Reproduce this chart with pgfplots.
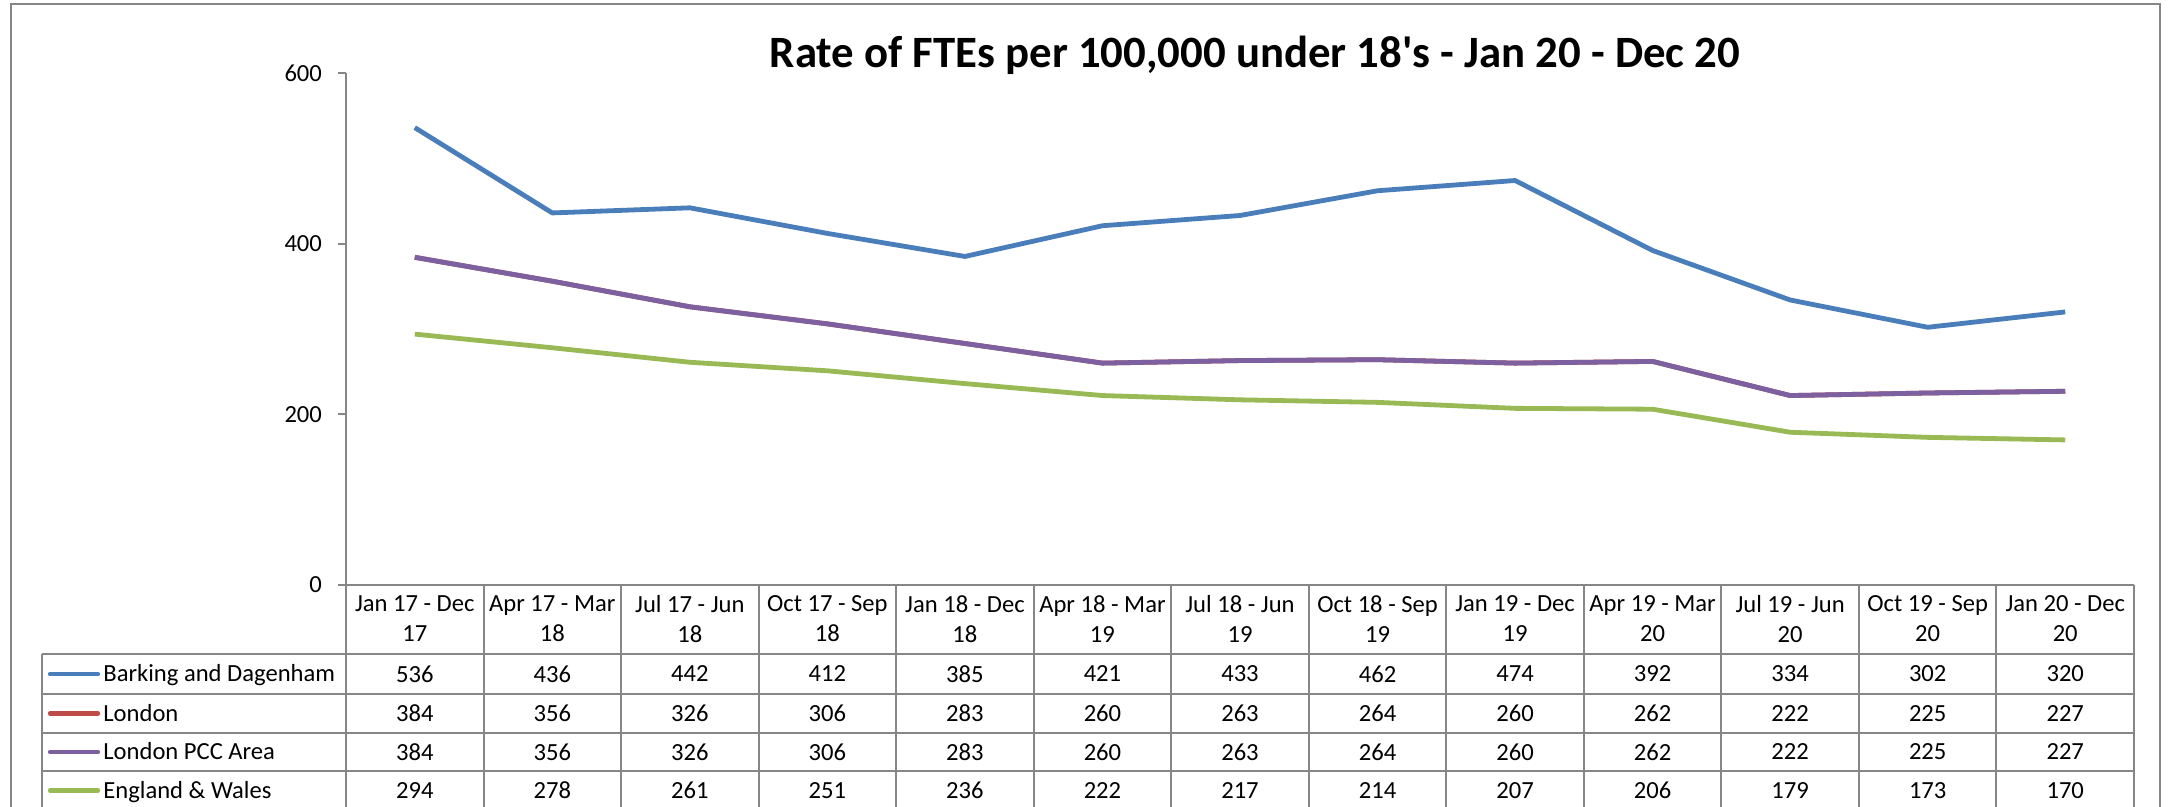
\documentclass[border=0pt]{standalone}
\usepackage{pgfplots}
\pgfplotsset{compat=1.18}
\usepackage{pgfplotstable}
\usepackage{fontspec}
\setmainfont{Carlito}[Ligatures=TeXOff]
\definecolor{cB}{HTML}{4A7EBB}
\definecolor{cR}{HTML}{BE4B48}
\definecolor{cP}{HTML}{7D60A0}
\definecolor{cG}{HTML}{98B954}
\definecolor{gridg}{HTML}{868686}

\pgfplotstableread{
x bd lon pcc ew
0 536 384 384 294
1 436 356 356 278
2 442 326 326 261
3 412 306 306 251
4 385 283 283 236
5 421 260 260 222
6 433 263 263 217
7 462 264 264 214
8 474 260 260 207
9 392 262 262 206
10 334 222 222 179
11 302 225 225 173
12 320 227 227 170
}\data

% pixel (reference) -> canvas, origin at axis lower-left = px (346,585)
\newcommand{\px}[2]{({((#1)-346)*0.5pt},{(585-(#2))*0.5pt})}
\newcommand{\fs}{\fontsize{12.3}{15}\selectfont}

\begin{document}
\begin{tikzpicture}
\useasboundingbox \px{0}{0} rectangle \px{2170}{807};
% outer frame
\draw[gridg, line width=1pt] \px{11}{807} -- \px{11}{4} -- \px{2160}{4} -- \px{2160}{807};
% title
\node[font=\fontsize{22.4}{26}\selectfont\bfseries] at \px{1255}{55} {Rate of FTEs per 100,000 under 18's - Jan 20 - Dec 20};

% table grid
\begin{scope}[gridg, line width=1pt]
\foreach \yy in {654,694,733,771} \draw \px{42}{\yy} -- \px{2134}{\yy};
\draw \px{42}{654} -- \px{42}{807};
\draw \px{346}{585} -- \px{346}{807};
\foreach \k in {1,...,13} \draw \px{346+137.54*\k}{585} -- \px{346+137.54*\k}{807};
\end{scope}

% legend keys in table
\foreach \yy/\cc/\tt in {674/cB/Barking and Dagenham, 713.5/cR/London, 752/cP/London PCC Area, 790.5/cG/England \& Wales}{
  \draw[\cc, line width=2.1pt, line cap=round] \px{50}{\yy} -- \px{98}{\yy};
  \node[anchor=base west, inner sep=0pt, font=\fs] at \px{103}{\yy+7.6} {\tt};
}

\begin{axis}[
  at={(0,0)}, anchor=south west,
  scale only axis, width=894pt, height=256pt,
  xmin=-0.5, xmax=12.5, ymin=0, ymax=600,
  clip=false,
  axis lines*=left,
  axis line style={gridg, line width=1pt},
  ytick={0,200,400,600},
  ytick align=outside,
  major tick length=4pt,
  ytick style={gridg, line width=1pt},
  xtick=data,
  xtick style={draw=none},
  xticklabels={{Jan 17 - Dec\\17},{Apr 17 - Mar\\18},{Jul 17 - Jun\\18},{Oct 17 - Sep\\18},{Jan 18 - Dec\\18},{Apr 18 - Mar\\19},{Jul 18 - Jun\\19},{Oct 18 - Sep\\19},{Jan 19 - Dec\\19},{Apr 19 - Mar\\20},{Jul 19 - Jun\\20},{Oct 19 - Sep\\20},{Jan 20 - Dec\\20}},
  xticklabel style={align=center, font=\fs, anchor=center, yshift=-17pt},
  yticklabel style={font=\fs, xshift=-4.5pt},
  /pgf/number format/assume math mode=true,
  tick label style={black},
]
\addplot[cB, line width=2.4pt, line join=round] table[x=x, y=bd] {\data};
\addplot[cR, line width=2.4pt, line join=round] table[x=x, y=lon] {\data};
\addplot[cP, line width=2.4pt, line join=round] table[x=x, y=pcc] {\data};
\addplot[cG, line width=2.4pt, line join=round] table[x=x, y=ew] {\data};
% data table values
\pgfplotsset{tabrow/.style={draw=none, mark=none, nodes near coords, point meta=explicit symbolic,
  nodes near coords style={anchor=center, inner sep=0pt, font=\fs, black}}}
\addplot[tabrow] table[x=x, y expr=-104.3, meta=bd] {\data};
\addplot[tabrow] table[x=x, y expr=-150.6, meta=lon] {\data};
\addplot[tabrow] table[x=x, y expr=-195.7, meta=pcc] {\data};
\addplot[tabrow] table[x=x, y expr=-240.8, meta=ew] {\data};
\end{axis}
\end{tikzpicture}
\end{document}
